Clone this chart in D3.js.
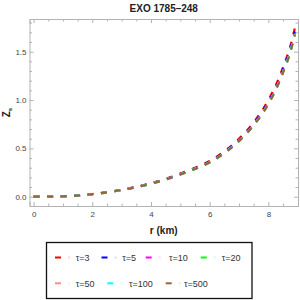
<!DOCTYPE html>
<html>
<head>
<meta charset="utf-8">
<script src="https://cdn.jsdelivr.net/npm/d3@7"></script>
<style>
  html, body { margin: 0; padding: 0; background: #fff; overflow: hidden; }
  svg { display: block; }
  text { font-family: "Liberation Sans", Arial, sans-serif; }
</style>
</head>
<body>
<svg></svg>
<script>
const w = 300
const h = 300

// radius (km)
const rVals = [0, 0.5, 1, 1.5, 2, 2.5, 3, 3.5, 4, 4.5, 5, 5.5, 6, 6.5, 7, 7.5, 8, 8.25, 8.5, 8.75, 8.9]
// Z_s for each tau
const zTau3   = [0, 0.001, 0.005, 0.013, 0.028, 0.047, 0.072, 0.103, 0.140, 0.185, 0.240, 0.300, 0.370, 0.470, 0.600, 0.770, 1.000, 1.150, 1.340, 1.560, 1.740]
const zTau5   = [0, 0.001, 0.005, 0.013, 0.027, 0.046, 0.070, 0.100, 0.137, 0.181, 0.235, 0.294, 0.362, 0.460, 0.587, 0.754, 0.980, 1.127, 1.313, 1.530, 1.708]
const zTau10  = [0, 0.001, 0.005, 0.012, 0.027, 0.045, 0.069, 0.099, 0.135, 0.179, 0.232, 0.290, 0.358, 0.455, 0.580, 0.745, 0.968, 1.113, 1.297, 1.511, 1.688]
const zTau20  = [0, 0.001, 0.005, 0.012, 0.027, 0.045, 0.069, 0.099, 0.135, 0.178, 0.231, 0.289, 0.356, 0.453, 0.578, 0.742, 0.964, 1.109, 1.292, 1.505, 1.681]
const zTau50  = [0, 0.001, 0.005, 0.012, 0.027, 0.045, 0.069, 0.099, 0.134, 0.178, 0.230, 0.288, 0.355, 0.452, 0.577, 0.740, 0.961, 1.106, 1.288, 1.501, 1.677]
const zTau100 = [0, 0.001, 0.005, 0.012, 0.027, 0.045, 0.069, 0.098, 0.134, 0.177, 0.230, 0.288, 0.355, 0.451, 0.576, 0.739, 0.960, 1.104, 1.287, 1.499, 1.675]
const zTau500 = [0, 0.001, 0.005, 0.012, 0.027, 0.045, 0.069, 0.098, 0.134, 0.177, 0.229, 0.287, 0.354, 0.450, 0.575, 0.738, 0.958, 1.102, 1.284, 1.496, 1.672]

const seriesNames = ['τ=3', 'τ=5', 'τ=10', 'τ=20', 'τ=50', 'τ=100', 'τ=500']
const seriesVals = [zTau3, zTau5, zTau10, zTau20, zTau50, zTau100, zTau500]
const colors = ['#ff0000', '#0000ff', '#ff00ff', '#00ff00', '#ff8c8c', '#00ffff', '#996633']

const xMajor = [0, 2, 4, 6, 8]
const xMinor = [0.5, 1, 1.5, 2.5, 3, 3.5, 4.5, 5, 5.5, 6.5, 7, 7.5, 8.5]
const yMajor = [0, 0.5, 1.0, 1.5]
const yMinor = [0.1, 0.2, 0.3, 0.4, 0.6, 0.7, 0.8, 0.9, 1.1, 1.2, 1.3, 1.4, 1.6, 1.7, 1.8]

const svg = d3.select('svg')
  .attr('width', w)
  .attr('height', h)

const margin = {top: 19, right: 2, bottom: 94, left: 29.5}
const innerWidth = w - margin.left - margin.right
const innerHeight = h - margin.top - margin.bottom

const xScale = d3.scaleLinear()
  .domain([-0.14, 9.01])
  .range([0, innerWidth])

const yScale = d3.scaleLinear()
  .domain([-0.096, 1.838])
  .range([innerHeight, 0])

const g = svg.append('g')
  .attr('transform', `translate(${margin.left}, ${margin.top})`)

// frame + ticks, all pointing inward
const styleAxis = (sel, labels) => {
  sel.select('.domain').attr('stroke', '#b3b3b3')
  sel.selectAll('.tick line').attr('stroke', '#b3b3b3')
  if (labels) {
    sel.selectAll('.tick text')
      .attr('fill', '#444')
      .attr('font-size', 8)
      .attr('font-family', '"Liberation Sans", Arial, sans-serif')
  } else {
    sel.selectAll('.tick text').remove()
  }
}

const bottomAx = g.append('g').attr('transform', `translate(0, ${innerHeight})`)
bottomAx.append('g').call(d3.axisBottom(xScale).tickValues(xMajor).tickSize(-4).tickPadding(5.5).tickFormat(d3.format('d')))
  .call(s => styleAxis(s, true))
bottomAx.append('g').call(d3.axisBottom(xScale).tickValues(xMinor).tickSize(-2.5))
  .call(s => { styleAxis(s, false); s.select('.domain').remove() })

const topAx = g.append('g')
topAx.append('g').call(d3.axisTop(xScale).tickValues(xMajor).tickSize(-4))
  .call(s => styleAxis(s, false))
topAx.append('g').call(d3.axisTop(xScale).tickValues(xMinor).tickSize(-2.5))
  .call(s => { styleAxis(s, false); s.select('.domain').remove() })

const leftAx = g.append('g')
leftAx.append('g').call(d3.axisLeft(yScale).tickValues(yMajor).tickSize(-4).tickPadding(3).tickFormat(d3.format('.1f')))
  .call(s => styleAxis(s, true))
leftAx.append('g').call(d3.axisLeft(yScale).tickValues(yMinor).tickSize(-2.5))
  .call(s => { styleAxis(s, false); s.select('.domain').remove() })

const rightAx = g.append('g').attr('transform', `translate(${innerWidth}, 0)`)
rightAx.append('g').call(d3.axisRight(yScale).tickValues(yMajor).tickSize(-4))
  .call(s => styleAxis(s, false))
rightAx.append('g').call(d3.axisRight(yScale).tickValues(yMinor).tickSize(-2.5))
  .call(s => { styleAxis(s, false); s.select('.domain').remove() })

// curves
const lineGen = d3.line()
  .x(d => xScale(d[0]))
  .y(d => yScale(d[1]))
  .curve(d3.curveMonotoneX)

seriesVals.forEach((vals, i) => {
  g.append('path')
    .datum(rVals.map((r, j) => [r, vals[j]]))
    .attr('d', lineGen)
    .attr('fill', 'none')
    .attr('stroke', colors[i])
    .attr('stroke-width', 2.2)
    .attr('stroke-dasharray', '6,7.5')
})

// titles
svg.append('text')
  .attr('x', margin.left + innerWidth / 2)
  .attr('y', 12)
  .attr('text-anchor', 'middle')
  .attr('font-size', 10)
  .attr('font-weight', 'bold')
  .attr('fill', '#222')
  .text('EXO 1785–248')

svg.append('text')
  .attr('x', margin.left + innerWidth / 2)
  .attr('y', 234)
  .attr('text-anchor', 'middle')
  .attr('font-size', 10)
  .attr('font-weight', 'bold')
  .attr('fill', '#222')
  .text('r (km)')

const yLab = svg.append('text')
  .attr('transform', `translate(10, ${margin.top + innerHeight / 2}) rotate(-90)`)
  .attr('text-anchor', 'middle')
  .attr('font-size', 10)
  .attr('font-weight', 'bold')
  .attr('fill', '#222')
yLab.append('tspan').text('Z')
yLab.append('tspan').attr('font-size', 6).attr('dy', 2).text('s')

// legend
svg.append('rect')
  .attr('x', 46.5).attr('y', 242.5)
  .attr('width', 205.5).attr('height', 56)
  .attr('fill', '#fff')
  .attr('stroke', '#111')
  .attr('stroke-width', 1.3)

const legendPos = [
  [55, 257.5], [101.5, 257.5], [145.7, 257.5], [200.7, 257.5],
  [55, 283.3], [107.3, 283.3], [165.7, 283.3]
]
const textOffset = [20.7, 20.8, 23.3, 21, 20.7, 21.7, 18.3]

const legend = svg.append('g')
seriesNames.forEach((name, i) => {
  const [lx, ly] = legendPos[i]
  const item = legend.append('g')
  item.append('line')
    .attr('x1', lx).attr('x2', lx + 6)
    .attr('y1', ly).attr('y2', ly)
    .attr('stroke', colors[i]).attr('stroke-width', 2)
  item.append('line')
    .attr('x1', lx + 13).attr('x2', lx + 15)
    .attr('y1', ly).attr('y2', ly)
    .attr('stroke', colors[i]).attr('stroke-width', 2).attr('opacity', 0.15)
  item.append('text')
    .attr('x', lx + textOffset[i])
    .attr('y', ly + 3.3)
    .attr('font-size', 9)
    .attr('fill', '#333')
    .text(name)
})
</script>
</body>
</html>
